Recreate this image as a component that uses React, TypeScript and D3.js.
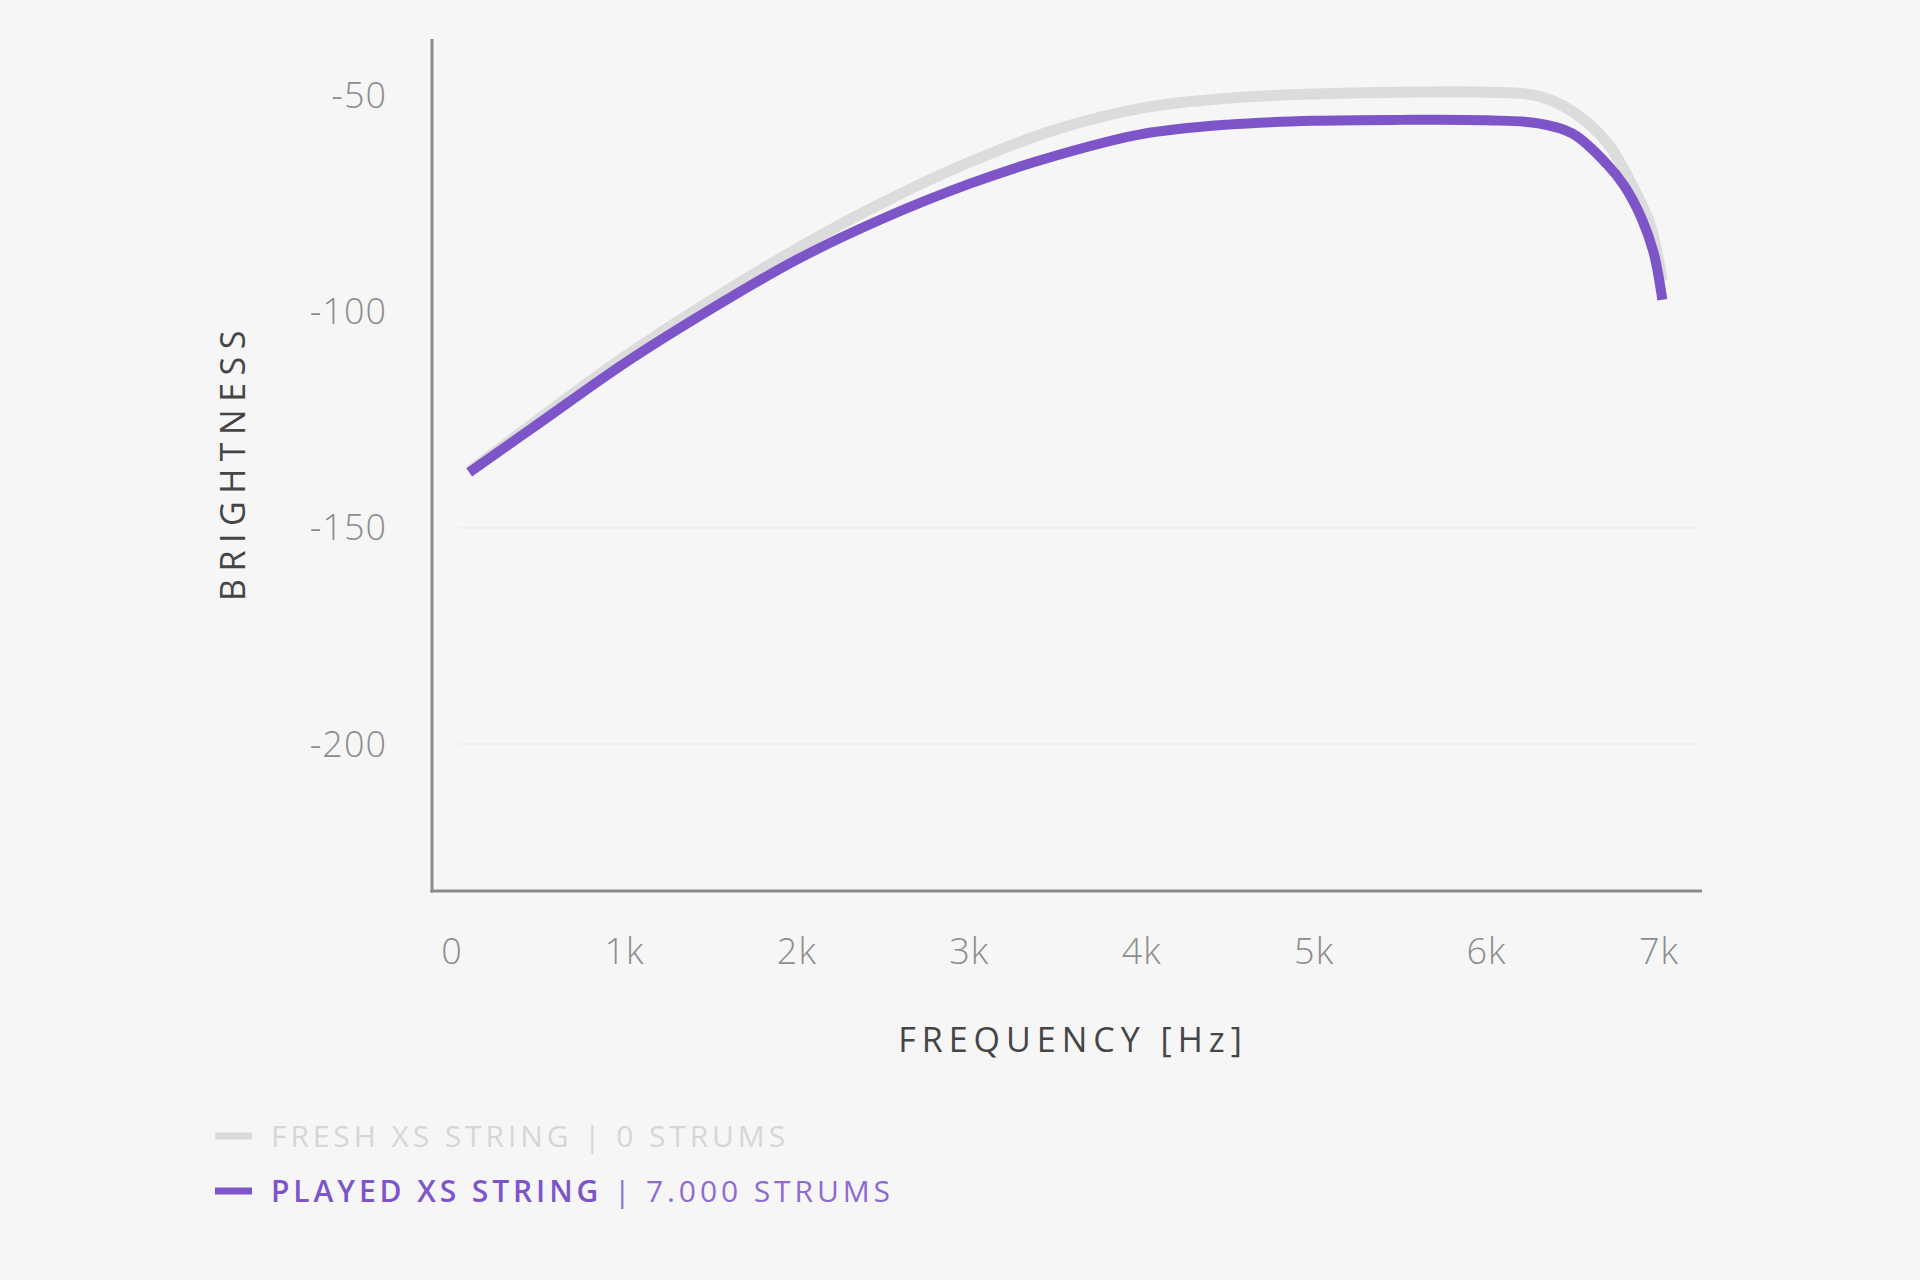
import React from "react";
import * as d3 from "d3";

const freqFresh = [100, 500, 1000, 1500, 2000, 2500, 3000, 3500, 4000, 4500, 5000, 5500, 6000, 6300, 6500, 6700, 6850, 6950, 7020];
const valFresh = [-137, -125, -110.5, -97.5, -85.5, -74.8, -65.5, -58, -53, -50.7, -49.7, -49.3, -49.3, -50.2, -53.8, -61, -71.2, -80, -93];

const freqPlayed = [100, 500, 1000, 1500, 2000, 2500, 3000, 3500, 4000, 4500, 5000, 5500, 6000, 6300, 6500, 6700, 6800, 6900, 6970, 7020];
const valPlayed = [-137.2, -126, -112, -99.5, -88, -78.5, -70.5, -64, -59, -56.8, -55.9, -55.7, -55.8, -56.5, -58.9, -66, -71, -78.5, -86.5, -97.3];

const xTicks = [0, 1000, 2000, 3000, 4000, 5000, 6000, 7000];
const xTickLabels = ["0", "1k", "2k", "3k", "4k", "5k", "6k", "7k"];
const yTicks = [-50, -100, -150, -200];
const gridTicks = [-150, -200];

const xTitle = "FREQUENCY [Hz]";
const yTitle = "BRIGHTNESS";
const legendFresh = ["FRESH XS STRING", " | 0 STRUMS"];
const legendPlayed = ["PLAYED XS STRING", " | 7.000 STRUMS"];

const FONT = "'Open Sans', 'DejaVu Sans', sans-serif";
const PURPLE = "#7e55c8";
const GRAY = "#dcdcdc";

export default function App() {
  const W = 1920;
  const H = 1280;
  const x = d3.scaleLinear().domain([-116, 7250]).range([432, 1702]);
  const y = d3.scaleLinear().domain([-234, -37]).range([891, 39]);

  const line = d3
    .line<[number, number]>()
    .x((d) => x(d[0]))
    .y((d) => y(d[1]))
    .curve(d3.curveCatmullRom.alpha(0.5));

  const fresh = freqFresh.map((f, i) => [f, valFresh[i]] as [number, number]);
  const played = freqPlayed.map((f, i) => [f, valPlayed[i]] as [number, number]);

  const [x0, x1] = x.range();
  const [yb, yt] = y.range();

  return (
    <svg
      width={W}
      height={H}
      style={{ position: "absolute", left: 0, top: 0, background: "#f6f6f6" }}
    >
      <rect x={0} y={0} width={W} height={H} fill="#f6f6f6" />
      {gridTicks.map((t) => (
        <line key={t} x1={459} x2={1696} y1={y(t)} y2={y(t)} stroke="#eeeeee" strokeWidth={2} />
      ))}
      <line x1={x0} x2={x0} y1={yt} y2={yb + 1.5} stroke="#8a8a8a" strokeWidth={3} />
      <line x1={x0 - 1.5} x2={x1} y1={yb} y2={yb} stroke="#8a8a8a" strokeWidth={3} />

      {yTicks.map((t) => (
        <text
          key={t}
          x={387}
          y={y(t)}
          dy="0.35em"
          textAnchor="end"
          fontFamily={FONT}
          fontSize={36}
          fontWeight={300}
          fill="#8c8c8c"
          letterSpacing={1}
        >
          {t}
        </text>
      ))}
      {xTicks.map((t, i) => (
        <text
          key={t}
          x={x(t)}
          y={951}
          dy="0.35em"
          textAnchor="middle"
          fontFamily={FONT}
          fontSize={36}
          fontWeight={300}
          fill="#8c8c8c"
          letterSpacing={1}
        >
          {xTickLabels[i]}
        </text>
      ))}

      <text
        x={1073}
        y={1040}
        dy="0.35em"
        textAnchor="middle"
        fontFamily={FONT}
        fontSize={34}
        fontWeight={500}
        fill="#454545"
        letterSpacing={6}
      >
        {xTitle}
      </text>
      <text
        transform={`translate(233,462) rotate(-90)`}
        dy="0.35em"
        textAnchor="middle"
        fontFamily={FONT}
        fontSize={34}
        fontWeight={500}
        fill="#454545"
        letterSpacing={7.5}
      >
        {yTitle}
      </text>

      <path d={line(fresh) || ""} fill="none" stroke={GRAY} strokeWidth={11} strokeLinecap="butt" strokeLinejoin="round" />
      <path d={line(played) || ""} fill="none" stroke={PURPLE} strokeWidth={10} strokeLinecap="butt" strokeLinejoin="round" />

      <line x1={215} x2={252} y1={1136} y2={1136} stroke={GRAY} strokeWidth={7} />
      <text x={271} y={1136} dy="0.35em" fontFamily={FONT} fontSize={30} letterSpacing={3.9} fill="#d6d6d6">
        <tspan fontWeight={500}>{legendFresh[0]}</tspan>
        <tspan fontWeight={400}>{legendFresh[1]}</tspan>
      </text>
      <line x1={215} x2={252} y1={1191} y2={1191} stroke={PURPLE} strokeWidth={7} />
      <text x={271} y={1191} dy="0.35em" fontFamily={FONT} fontSize={30} letterSpacing={3.9} fill={PURPLE}>
        <tspan fontWeight={600}>{legendPlayed[0]}</tspan>
        <tspan fontWeight={400} fill="#8e6bd0">{legendPlayed[1]}</tspan>
      </text>
    </svg>
  );
}
